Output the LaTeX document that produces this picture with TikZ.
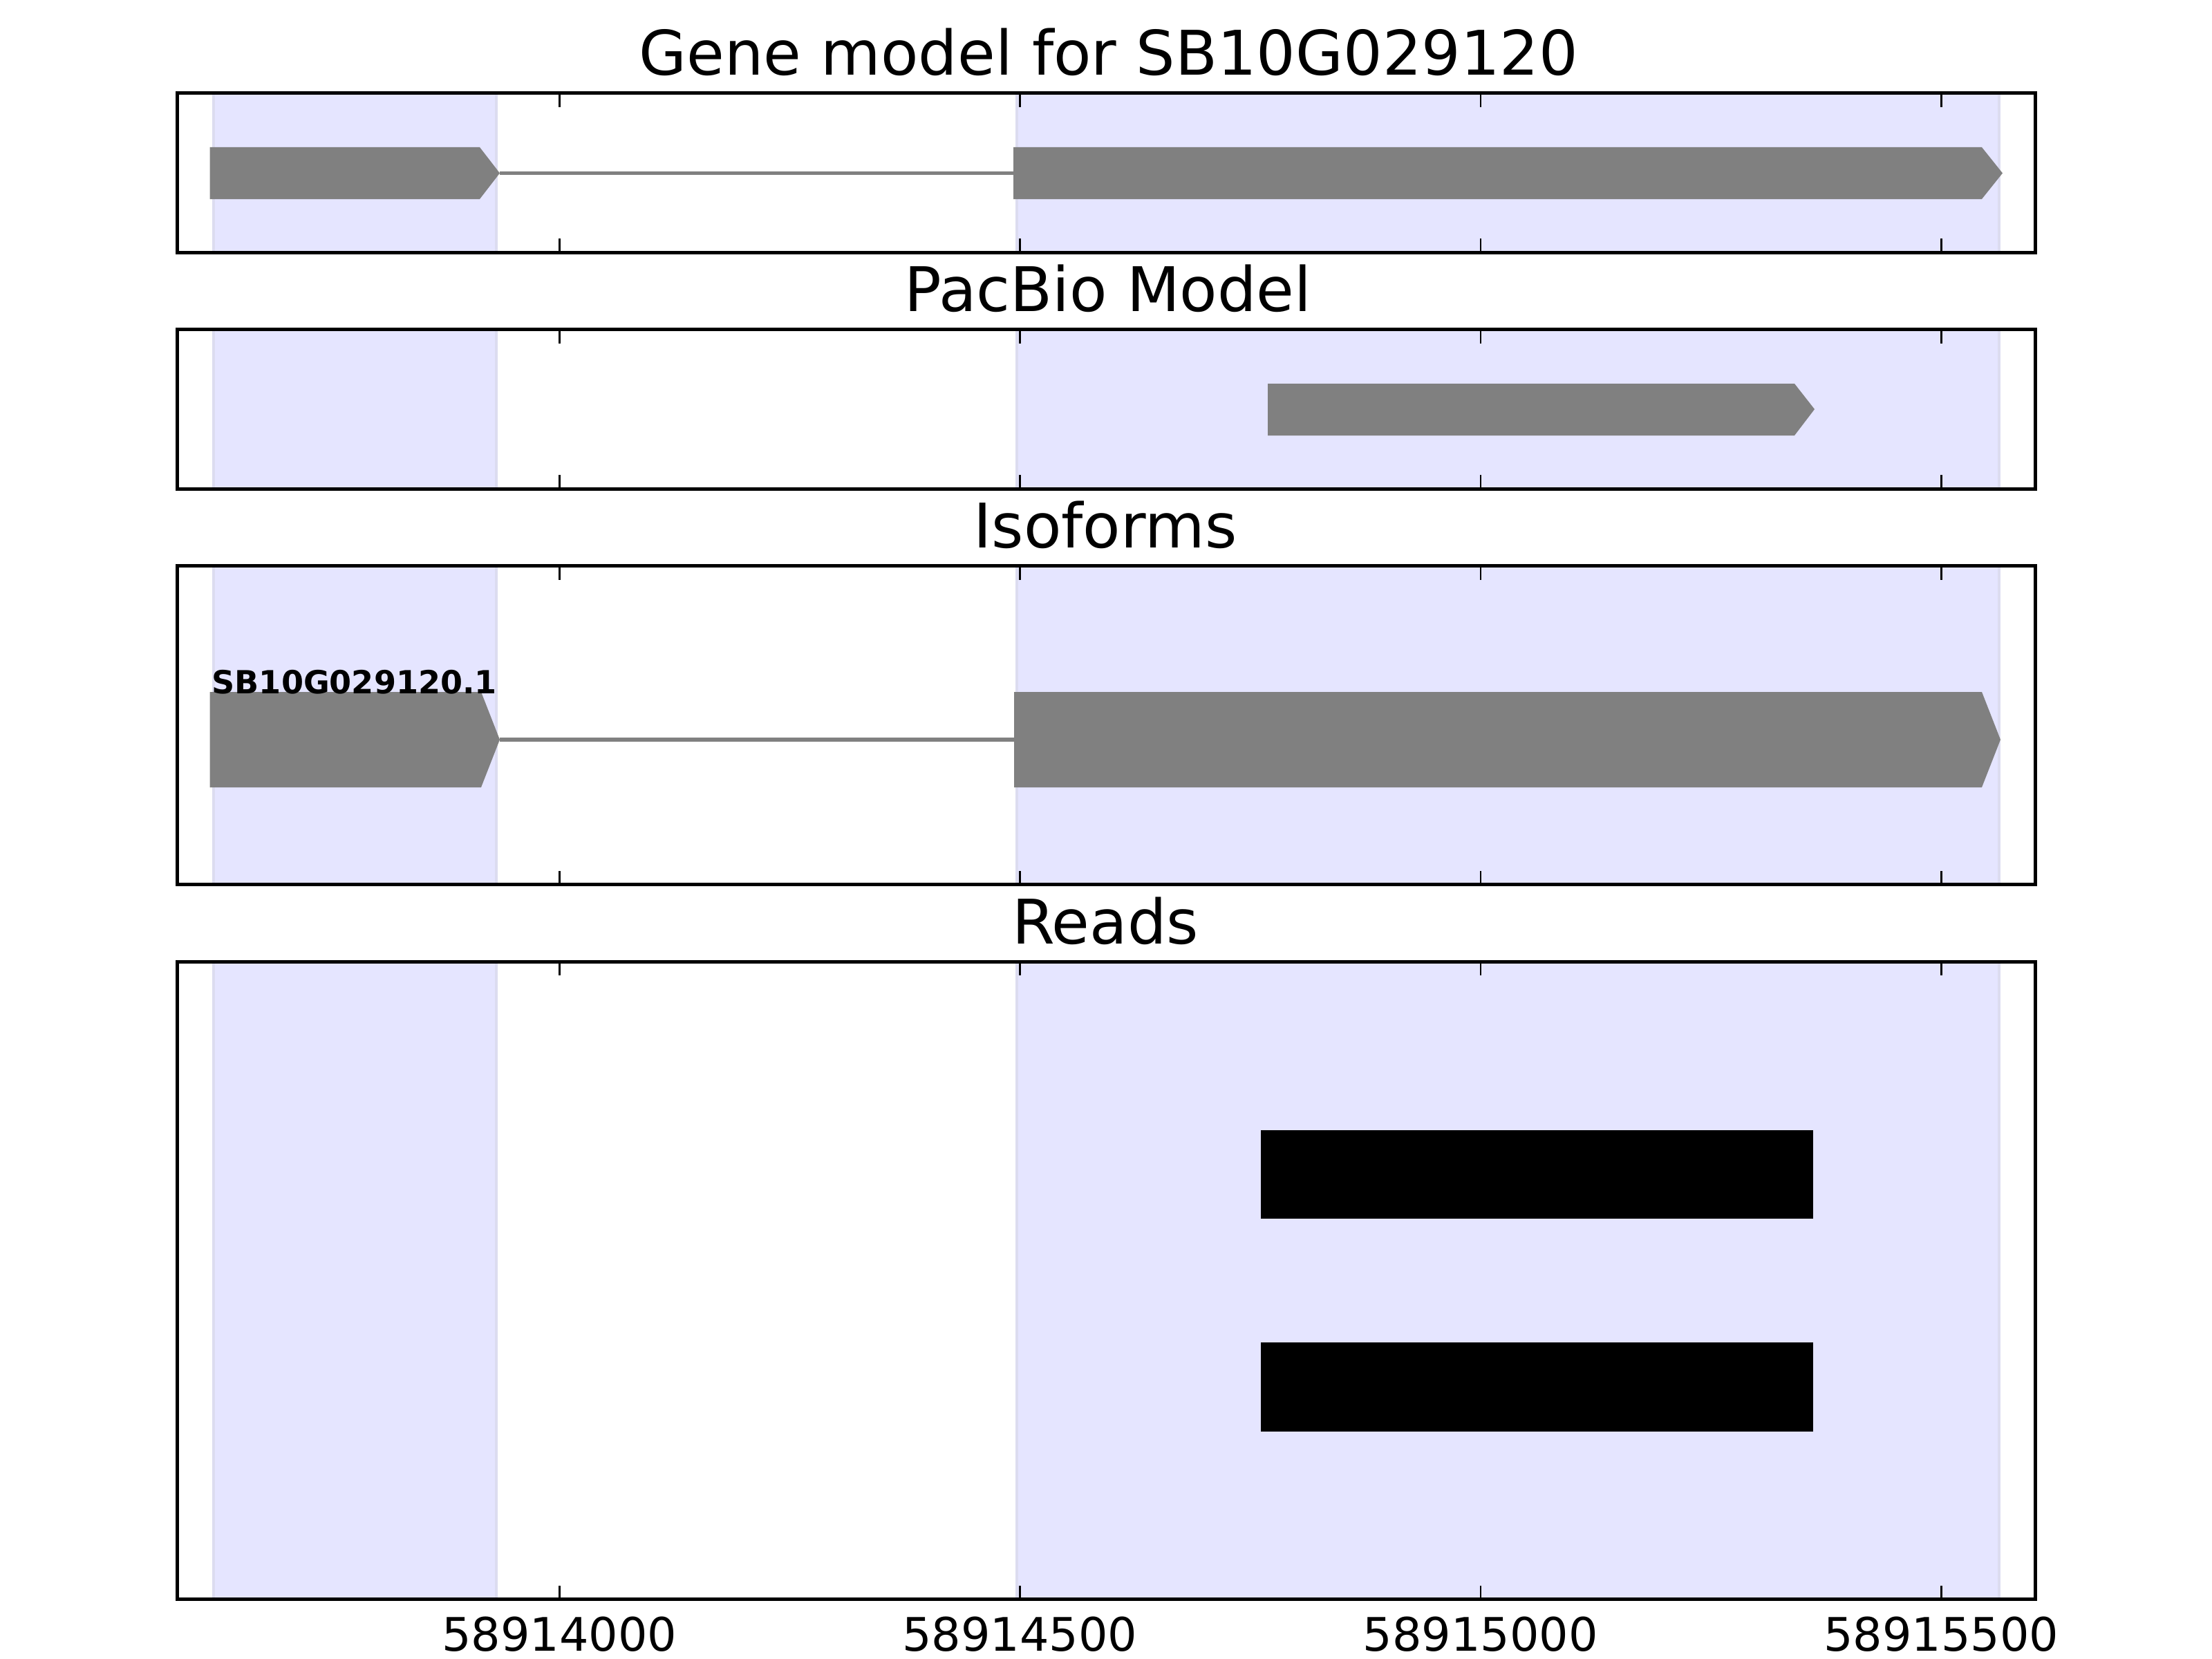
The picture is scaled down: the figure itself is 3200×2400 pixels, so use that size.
\documentclass[tikz,border=0pt]{standalone}
\usepackage{fontspec}
\setmainfont{DejaVu Sans}
\definecolor{shadefill}{RGB}{229,229,255}
\definecolor{shadeedge}{RGB}{220,220,240}
\definecolor{exongray}{RGB}{128,128,128}
\tikzset{
  axframe/.style={draw=black, line width=1.42pt},
  shadebox/.style={fill=shadefill, draw=shadeedge, line width=1pt},
  exon/.style={fill=exongray, draw=none},
  intron/.style={draw=exongray, line width=1.5pt},
  readbox/.style={fill=black},
  tickmark/.style={draw=black, line width=0.75pt},
  ttl/.style={font=\fontsize{25.3}{30}\selectfont, anchor=base, inner sep=0pt},
  ticklbl/.style={font=\fontsize{19}{23}\selectfont, anchor=base, inner sep=0pt},
  isolbl/.style={font=\bfseries\fontsize{13.1}{16}\selectfont, anchor=base west, inner sep=0pt},
}
\begin{document}
\begin{tikzpicture}[x=0.01cm,y=-0.01cm]
\fill[white] (0,0) rectangle (3200,2400);
\useasboundingbox (0,0) rectangle (3200,2400);
% shaded exon regions
\foreach \t/\b in {134.7/365.3, 476.6/707.2, 818.5/1279.7, 1391/2313.5}{
  \path[shadebox] (309,\t) rectangle (718,\b);
  \path[shadebox] (1471,\t) rectangle (2892,\b);
}
% panel 1: gene model
\fill[exon] (303.5,213) -- (694,213) -- (723,250.5) -- (694,288) -- (303.5,288) -- cycle;
\draw[intron] (723,250.5) -- (1467,250.5);
\fill[exon] (1466,213) -- (2867,213) -- (2897,250.5) -- (2867,288) -- (1466,288) -- cycle;
% panel 2: PacBio model
\fill[exon] (1834,555) -- (2596,555) -- (2625,592) -- (2596,630) -- (1834,630) -- cycle;
% panel 3: isoforms
\fill[exon] (303.5,1001) -- (696,1001) -- (723,1070) -- (696,1139) -- (303.5,1139) -- cycle;
\draw[intron] (723,1070) -- (1468,1070);
\fill[exon] (1467,1001) -- (2867,1001) -- (2894,1070) -- (2867,1139) -- (1467,1139) -- cycle;
\node[isolbl] (iso1) at (306,1003) {SB10G029120.1};
% panel 4: reads
\fill[readbox] (1824,1635) rectangle (2623,1763);
\fill[readbox] (1824,1942) rectangle (2623,2071);
% ticks and frames
\foreach \t/\b in {134.7/365.3, 476.6/707.2, 818.5/1279.7, 1391/2313.5}{
  \foreach \x in {809.5,1475.3,2142,2808.3}{
    \draw[tickmark] (\x,\t) -- ++(0,20);
    \draw[tickmark] (\x,\b) -- ++(0,-20);
  }
  \draw[axframe] (256,\t) rectangle (2944,\b);
}
% titles
\node[ttl] (title1) at (1604,109) {Gene model for SB10G029120};
\node[ttl] (title2) at (1603,450.5) {PacBio Model};
\node[ttl] (title3) at (1599,792.5) {Isoforms};
\node[ttl] (title4) at (1599,1365) {Reads};
% tick labels
\node[ticklbl] (tl1) at (809.5,2388) {58914000};
\node[ticklbl] (tl2) at (1475.3,2388) {58914500};
\node[ticklbl] (tl3) at (2142,2388) {58915000};
\node[ticklbl] (tl4) at (2808.3,2388) {58915500};
\end{tikzpicture}
\end{document}
